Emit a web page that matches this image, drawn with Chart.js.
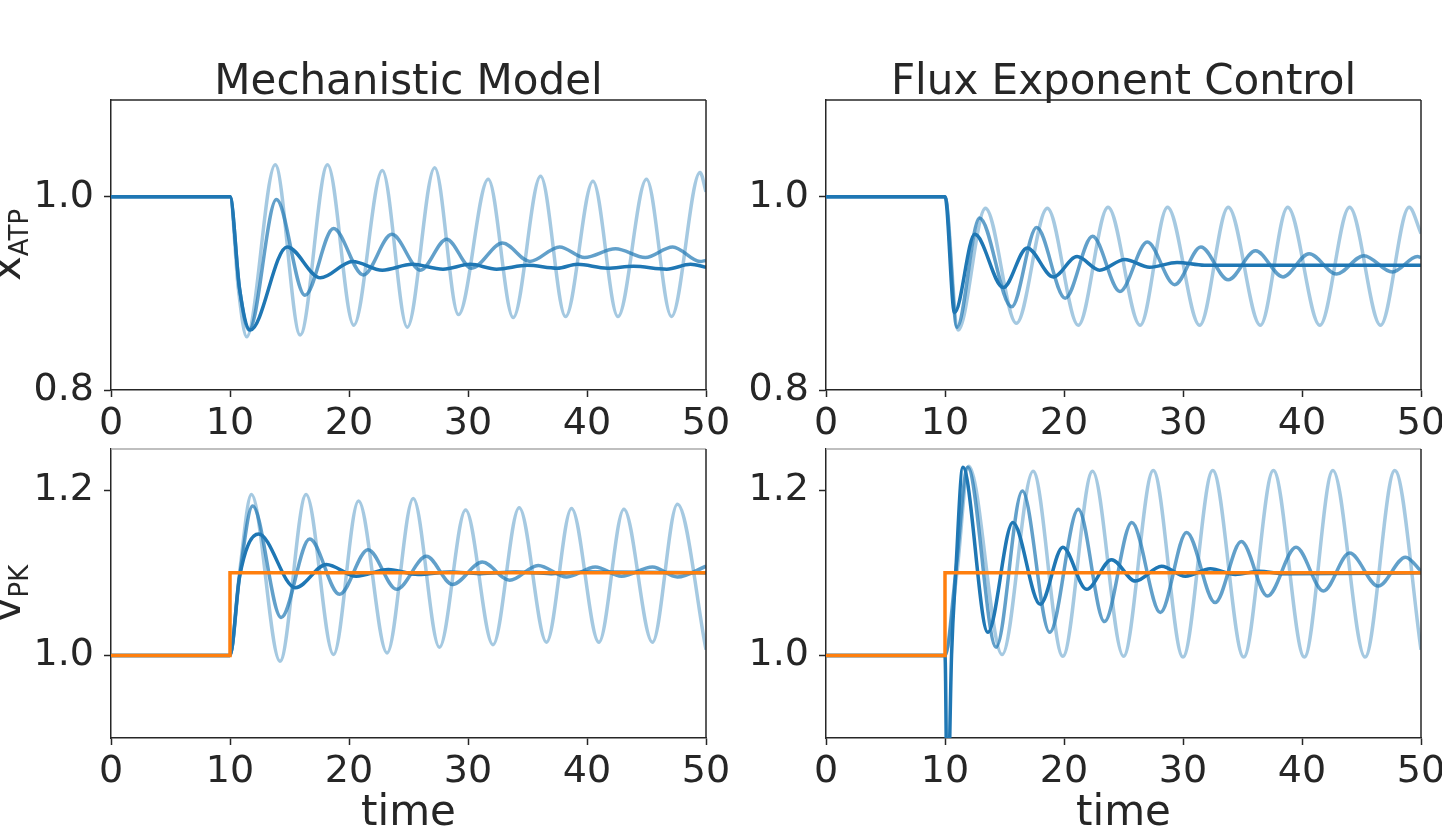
<!DOCTYPE html>
<html>
<head>
  <meta charset="UTF-8">
  <title>Mechanistic Model vs Flux Exponent Control</title>
  <script src="https://cdn.jsdelivr.net/npm/chart.js"></script>
  <style>
    body { margin: 0; background: #fff; }
    #wrap { position: relative; width: 1442px; height: 828px; overflow: hidden; background: #fff; }
    canvas { position: absolute; left: 0; top: 0; }
  </style>
</head>
<body>
<div id="wrap">
  <canvas id="tl" width="1442" height="828"></canvas>
  <canvas id="tr" width="1442" height="828"></canvas>
  <canvas id="bl" width="1442" height="828"></canvas>
  <canvas id="br" width="1442" height="828"></canvas>
</div>

<script>
  // tick labels
  const TIME_TICKS = [0, 10, 20, 30, 40, 50];
  const XATP_TICKS = [0.8, 1.0];
  const VPK_TICKS = [1.0, 1.2];

  // [time, value]: peaks, troughs and a few points on the jumps
  // Mechanistic Model, x_ATP
  const mechAtpDark = [[0,1.0],[10,1.0],[10.8,0.905],[11.7,0.862],[14.8,0.948],[17.6,0.916],[20.3,0.933],[22.8,0.924],[25.3,0.930],[27.9,0.925],[30.2,0.930],[32.4,0.925],[35.0,0.929],[37.5,0.926],[39.2,0.930],[41.7,0.926],[43.9,0.928],[46.7,0.925],[48.7,0.930],[50,0.927]];
  const mechAtpMid = [[0,1.0],[10,1.0],[10.8,0.905],[11.6,0.862],[13.9,0.997],[16.3,0.898],[18.7,0.967],[21.2,0.919],[23.6,0.961],[26.0,0.924],[28.2,0.956],[30.3,0.926],[32.9,0.952],[35.2,0.933],[37.7,0.948],[39.8,0.937],[42.4,0.946],[44.9,0.937],[47.2,0.948],[49.5,0.933],[50,0.934]];
  const mechAtpLight = [[0,1.0],[10,1.0],[10.7,0.905],[11.4,0.855],[13.8,1.033],[15.9,0.857],[18.2,1.033],[20.4,0.867],[22.8,1.027],[24.9,0.865],[27.2,1.030],[29.2,0.878],[31.7,1.018],[33.8,0.875],[36.1,1.021],[38.2,0.876],[40.5,1.016],[42.6,0.876],[45.0,1.018],[47.1,0.876],[49.5,1.025],[50,1.005]];

  // Flux Exponent Control, x_ATP
  const fluxAtpDark = [[0,1.0],[10,1.0],[10.8,0.880],[12.5,0.961],[14.9,0.906],[16.9,0.947],[19.1,0.917],[21.1,0.938],[23.0,0.924],[25.1,0.935],[27.2,0.927],[29.5,0.932],[31.8,0.929],[50,0.929]];
  const fluxAtpMid = [[0,1.0],[10,1.0],[11.0,0.865],[12.9,0.978],[15.6,0.886],[17.7,0.968],[20.1,0.895],[22.4,0.959],[24.7,0.902],[27.0,0.953],[29.3,0.909],[31.5,0.948],[33.8,0.914],[36.1,0.944],[38.4,0.917],[40.6,0.941],[42.9,0.920],[45.2,0.939],[47.6,0.922],[49.7,0.938],[50,0.937]];
  const fluxAtpLight = [[0,1.0],[10,1.0],[11.1,0.862],[13.4,0.988],[16.0,0.869],[18.6,0.988],[21.2,0.867],[23.7,0.989],[26.4,0.867],[28.7,0.989],[31.4,0.867],[33.8,0.989],[36.5,0.867],[38.8,0.989],[41.5,0.867],[44.0,0.989],[46.6,0.867],[49.0,0.989],[50,0.962]];

  // Mechanistic Model, v_PK
  const mechPkDark = [[0,1.0],[10,1.0],[10.8,1.095],[12.4,1.147],[15.5,1.082],[18.1,1.110],[20.6,1.096],[23.3,1.104],[25.8,1.098],[28.5,1.101],[31.0,1.099],[34.0,1.101],[37.0,1.099],[40.0,1.101],[50,1.100]];
  const mechPkMid = [[0,1.0],[10,1.0],[10.8,1.095],[11.9,1.181],[14.3,1.046],[16.7,1.141],[19.2,1.074],[21.6,1.128],[24.0,1.080],[26.5,1.120],[28.7,1.086],[31.2,1.113],[33.5,1.091],[35.9,1.109],[38.3,1.095],[40.7,1.107],[42.9,1.096],[45.5,1.107],[47.6,1.095],[50,1.108]];
  const mechPkLight = [[0,1.0],[10,1.0],[10.8,1.100],[11.8,1.195],[14.2,0.993],[16.4,1.195],[18.7,1.001],[20.8,1.187],[23.2,1.003],[25.4,1.190],[27.6,1.010],[29.8,1.176],[32.1,1.013],[34.3,1.179],[36.6,1.016],[38.7,1.178],[41.0,1.016],[43.1,1.177],[45.5,1.016],[47.6,1.183],[50,1.007]];

  // Flux Exponent Control, v_PK
  const fluxPkDark = [[0,1.0],[10,1.0],[10.2,0.80],[10.55,1.0],[10.9,1.1],[11.5,1.228],[13.6,1.028],[15.7,1.161],[18.0,1.062],[19.9,1.131],[21.9,1.080],[24.0,1.116],[26.0,1.090],[28.2,1.108],[30.2,1.096],[32.3,1.105],[34.4,1.098],[36.4,1.102],[38.5,1.099],[50,1.100]];
  const fluxPkMid = [[0,1.0],[10,1.0],[10.9,1.100],[11.9,1.228],[14.3,1.010],[16.5,1.199],[18.8,1.028],[21.2,1.177],[23.4,1.041],[25.7,1.161],[28.1,1.052],[30.3,1.149],[32.7,1.064],[34.9,1.138],[37.1,1.072],[39.5,1.131],[41.8,1.078],[44.0,1.124],[46.4,1.084],[48.7,1.119],[50,1.102]];
  const fluxPkLight = [[0,1.0],[10,1.0],[11.0,1.100],[12.0,1.229],[14.8,1.001],[17.4,1.223],[19.9,0.999],[22.4,1.223],[25.0,0.999],[27.5,1.224],[30.0,0.998],[32.5,1.224],[35.1,0.998],[37.6,1.224],[40.2,0.998],[42.6,1.224],[45.3,0.998],[47.8,1.224],[50,1.007]];

  // set point for v_PK
  const pkTarget = [[0,1.0],[10,1.0],[10,1.1],[50,1.1]];

  const INK = '#262626';
  const BLUE = '31,119,180';
  const FONT = '"DejaVu Sans", sans-serif';
  const LW = 3.5;

  const panelDeco = {
    id: 'panelDeco',
    afterDraw(chart, args, o) {
      const ctx = chart.ctx;
      const a = chart.chartArea;
      ctx.save();
      // top and right spines
      ctx.lineWidth = 1.5;
      ctx.strokeStyle = o.topColor || INK;
      ctx.beginPath();
      ctx.moveTo(a.left, a.top);
      ctx.lineTo(a.right, a.top);
      ctx.stroke();
      ctx.strokeStyle = INK;
      ctx.beginPath();
      ctx.moveTo(a.right, a.top);
      ctx.lineTo(a.right, a.bottom);
      ctx.stroke();

      ctx.fillStyle = INK;
      ctx.textBaseline = 'alphabetic';
      if (o.title) {
        ctx.font = '42px ' + FONT;
        ctx.textAlign = 'center';
        ctx.fillText(o.title, (a.left + a.right) / 2, a.top - 6);
      }
      if (o.xlab) {
        ctx.font = '42px ' + FONT;
        ctx.textAlign = 'center';
        ctx.fillText(o.xlab, (a.left + a.right) / 2, a.bottom + 87);
      }
      if (o.ylab) {
        ctx.textAlign = 'left';
        ctx.font = '42px ' + FONT;
        const w1 = ctx.measureText(o.ylab).width;
        ctx.font = '26px ' + FONT;
        const w2 = ctx.measureText(o.ysub).width;
        ctx.translate(20, (a.top + a.bottom) / 2);
        ctx.rotate(-Math.PI / 2);
        ctx.font = '42px ' + FONT;
        ctx.fillText(o.ylab, -(w1 + w2) / 2, 0);
        ctx.font = '26px ' + FONT;
        ctx.fillText(o.ysub, -(w1 + w2) / 2 + w1, 8);
      }
      ctx.restore();
    }
  };

  function curve(pts, alpha, order) {
    return {
      data: pts.map(p => ({ x: p[0], y: p[1] })),
      borderColor: 'rgba(' + BLUE + ',' + alpha + ')',
      borderWidth: LW,
      pointRadius: 0,
      cubicInterpolationMode: 'monotone',
      order: order
    };
  }

  function makePanel(id, sets, yMin, yMax, yTicks, pad, deco) {
    new Chart(document.getElementById(id), {
      type: 'line',
      data: { datasets: sets },
      plugins: [panelDeco],
      options: {
        responsive: false,
        animation: false,
        events: [],
        layout: { padding: pad },
        plugins: { legend: { display: false }, tooltip: { enabled: false }, panelDeco: deco },
        scales: {
          x: {
            type: 'linear', min: 0, max: 50,
            afterBuildTicks: s => { s.ticks = TIME_TICKS.map(v => ({ value: v })); },
            afterFit: s => { s.height = 60; s.paddingLeft = 0; s.paddingRight = 0; },
            ticks: { color: INK, font: { family: 'DejaVu Sans', size: 38 }, padding: 4, maxRotation: 0, autoSkip: false,
                     callback: v => String(v) },
            grid: { drawOnChartArea: false, tickLength: 7, tickWidth: 1.5, tickColor: INK },
            border: { color: INK, width: 1.5 }
          },
          y: {
            min: yMin, max: yMax,
            afterBuildTicks: s => { s.ticks = yTicks.map(v => ({ value: v })); },
            afterFit: s => { s.width = 100; s.paddingTop = 0; s.paddingBottom = 0; },
            ticks: { color: INK, font: { family: 'DejaVu Sans', size: 38 }, padding: 10,
                     callback: v => Number(v).toFixed(1) },
            grid: { drawOnChartArea: false, tickLength: 7, tickWidth: 1.5, tickColor: INK },
            border: { color: INK, width: 1.5 }
          }
        }
      }
    });
  }

  function target() {
    return {
      data: pkTarget.map(p => ({ x: p[0], y: p[1] })),
      borderColor: '#ff7f0e',
      borderWidth: LW,
      pointRadius: 0,
      tension: 0,
      order: 0
    };
  }

  makePanel('tl', [curve(mechAtpDark, 1, 1), curve(mechAtpMid, 0.7, 2), curve(mechAtpLight, 0.4, 3)],
    0.8, 1.1, XATP_TICKS, { left: 11, right: 736, top: 100, bottom: 378 },
    { title: 'Mechanistic Model', ylab: 'x', ysub: 'ATP' });

  makePanel('tr', [curve(fluxAtpDark, 1, 1), curve(fluxAtpMid, 0.7, 2), curve(fluxAtpLight, 0.4, 3)],
    0.8, 1.1, XATP_TICKS, { left: 726, right: 21, top: 100, bottom: 378 },
    { title: 'Flux Exponent Control' });

  makePanel('bl', [target(), curve(mechPkDark, 1, 1), curve(mechPkMid, 0.7, 2), curve(mechPkLight, 0.4, 3)],
    0.9, 1.25, VPK_TICKS, { left: 11, right: 736, top: 449, bottom: 30 },
    { ylab: 'v', ysub: 'PK', xlab: 'time', topColor: '#aaaaaa' });

  makePanel('br', [target(), curve(fluxPkDark, 1, 1), curve(fluxPkMid, 0.7, 2), curve(fluxPkLight, 0.4, 3)],
    0.9, 1.25, VPK_TICKS, { left: 726, right: 21, top: 449, bottom: 30 },
    { xlab: 'time', topColor: '#aaaaaa' });
</script>
</body>
</html>
